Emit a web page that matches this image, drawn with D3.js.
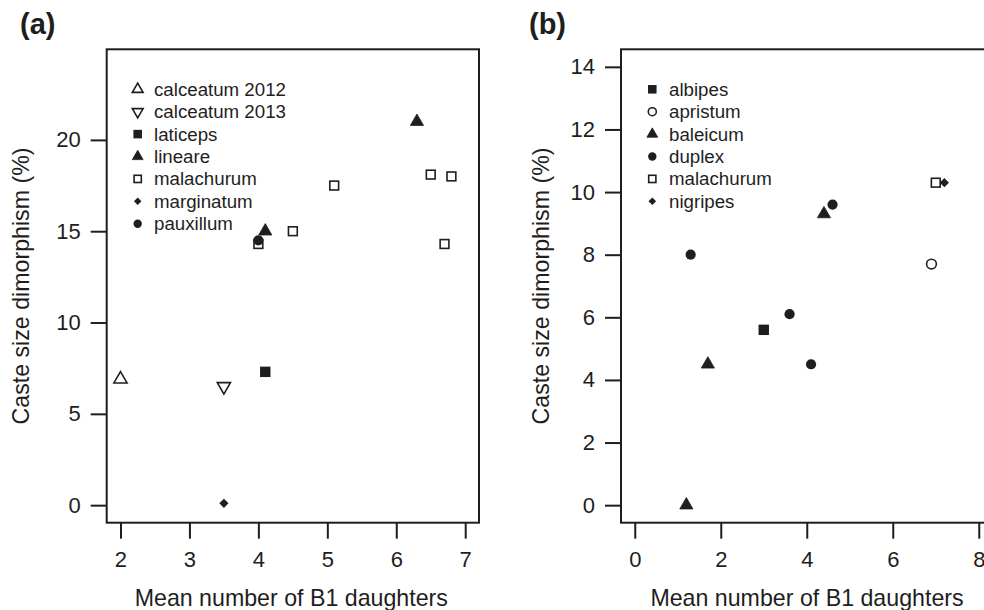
<!DOCTYPE html>
<html>
<head>
<meta charset="utf-8">
<script src="https://cdn.jsdelivr.net/npm/d3@7"></script>
<style>
  html, body { margin: 0; padding: 0; background: #fff; }
  svg { display: block; font-family: "Liberation Sans", Arial, Helvetica, sans-serif; }
</style>
</head>
<body>
<svg id="chart" width="984" height="610"></svg>
<script>
// ---------- DATA ----------
// Panel (a)
const seriesA = ["calceatum 2012", "calceatum 2013", "laticeps", "lineare", "malachurum", "marginatum", "pauxillum"];
const pointsA_calceatum2012 = [[2.0, 6.9]];
const pointsA_calceatum2013 = [[3.5, 6.5]];
const pointsA_laticeps      = [[4.1, 7.3]];
const pointsA_lineare       = [[6.3, 21.0], [4.1, 15.0]];
const pointsA_malachurum    = [[4.0, 14.3], [4.5, 15.0], [5.1, 17.5], [6.5, 18.1], [6.8, 18.0], [6.7, 14.3]];
const pointsA_marginatum    = [[3.5, 0.1]];
const pointsA_pauxillum     = [[4.0, 14.5]];
const xTicksA = [2, 3, 4, 5, 6, 7];
const yTicksA = [0, 5, 10, 15, 20];

// Panel (b)
const seriesB = ["albipes", "apristum", "baleicum", "duplex", "malachurum", "nigripes"];
const pointsB_albipes    = [[3.0, 5.6]];
const pointsB_apristum   = [[6.9, 7.7]];
const pointsB_baleicum   = [[4.4, 9.3], [1.7, 4.5], [1.2, 0.0]];
const pointsB_duplex     = [[1.3, 8.0], [4.6, 9.6], [3.6, 6.1], [4.1, 4.5]];
const pointsB_malachurum = [[7.0, 10.3]];
const pointsB_nigripes   = [[7.2, 10.3]];
const xTicksB = [0, 2, 4, 6, 8];
const yTicksB = [0, 2, 4, 6, 8, 10, 12, 14];

const xTitle = "Mean number of B1 daughters";
const yTitle = "Caste size dimorphism (%)";

// ---------- DRAWING ----------
const svg = d3.select("#chart");
const ink = "#1e1e1e";

// marker shapes keyed by series name (per panel)
const markerA = {
  "calceatum 2012": "triUpOpen", "calceatum 2013": "triDownOpen", "laticeps": "squareFilled",
  "lineare": "triUpFilled", "malachurum": "squareOpen", "marginatum": "diamondFilled", "pauxillum": "circleFilled"
};
const markerB = {
  "albipes": "squareFilled", "apristum": "circleOpen", "baleicum": "triUpFilled",
  "duplex": "circleFilled", "malachurum": "squareOpen", "nigripes": "diamondFilled"
};

function drawMarker(g, kind, cx, cy, s) {
  const gg = g.append("g").attr("transform", `translate(${cx},${cy})`);
  const sw = 1.6;
  if (kind.startsWith("triUp") || kind.startsWith("triDown")) {
    const r = 7.6 * s, h = r * Math.sqrt(3) / 2;
    const sign = kind.startsWith("triUp") ? 1 : -1;
    const p = `M0,${-sign * r}L${h},${sign * r / 2}L${-h},${sign * r / 2}Z`;
    const filled = kind.endsWith("Filled");
    gg.append("path").attr("d", p)
      .attr("fill", filled ? ink : "none")
      .attr("stroke", ink).attr("stroke-width", filled ? 0.8 : sw)
      .attr("stroke-linejoin", "miter");
  } else if (kind === "squareFilled") {
    const a = 5.2 * s;
    gg.append("rect").attr("x", -a).attr("y", -a).attr("width", 2 * a).attr("height", 2 * a).attr("fill", ink);
  } else if (kind === "squareOpen") {
    const a = 4.4 * s;
    gg.append("rect").attr("x", -a).attr("y", -a).attr("width", 2 * a).attr("height", 2 * a)
      .attr("fill", "none").attr("stroke", ink).attr("stroke-width", sw);
  } else if (kind === "diamondFilled") {
    const a = 4.6 * s;
    gg.append("path").attr("d", `M0,${-a}L${a},0L0,${a}L${-a},0Z`).attr("fill", ink);
  } else if (kind === "circleFilled") {
    gg.append("circle").attr("r", 5.1 * s).attr("fill", ink);
  } else if (kind === "circleOpen") {
    gg.append("circle").attr("r", 4.9 * s).attr("fill", "none").attr("stroke", ink).attr("stroke-width", sw);
  }
}

function panel(cfg) {
  const x = d3.scaleLinear().domain(cfg.xDomain).range([cfg.left, cfg.right]);
  const y = d3.scaleLinear().domain(cfg.yDomain).range([cfg.bottom, cfg.top]);
  const g = svg.append("g");

  // axes
  const xa = g.append("g").attr("transform", `translate(0,${cfg.bottom})`)
    .call(d3.axisBottom(x).tickValues(cfg.xTicks).tickSize(16).tickPadding(12.6).tickFormat(d3.format("d")));
  const ya = g.append("g").attr("transform", `translate(${cfg.left},0)`)
    .call(d3.axisLeft(y).tickValues(cfg.yTicks).tickSize(16).tickPadding(10).tickFormat(d3.format("d")));
  [xa, ya].forEach(a => {
    a.select(".domain").remove();
    a.selectAll(".tick line").attr("stroke", ink).attr("stroke-width", 2);
    a.selectAll(".tick text").attr("fill", ink).style("font-size", "22px")
      .style("font-family", "'Liberation Sans', Arial, Helvetica, sans-serif");
  });

  // box
  g.append("rect").attr("x", cfg.left).attr("y", cfg.top)
    .attr("width", cfg.right - cfg.left).attr("height", cfg.bottom - cfg.top)
    .attr("fill", "none").attr("stroke", ink).attr("stroke-width", 2);

  // points (clipped to plot area like R)
  const clipId = "clip" + cfg.tag;
  g.append("clipPath").attr("id", clipId).append("rect")
    .attr("x", cfg.left).attr("y", cfg.top).attr("width", cfg.right - cfg.left).attr("height", cfg.bottom - cfg.top);
  const pg = g.append("g").attr("clip-path", `url(#${clipId})`);
  cfg.series.forEach((name, i) => {
    cfg.points[i].forEach(p => drawMarker(pg, cfg.marker[name], x(p[0]), y(p[1]), 1));
  });

  // legend
  cfg.series.forEach((name, i) => {
    const ly = cfg.legendTop + i * 22.4;
    drawMarker(g, cfg.marker[name], cfg.legendSym, ly, 0.82);
    g.append("text").attr("x", cfg.legendText).attr("y", ly).attr("dy", "0.35em")
      .attr("fill", ink).style("font-size", "18.7px").text(name);
  });

  // titles
  g.append("text").attr("x", cfg.xTitleX).attr("y", 606).attr("text-anchor", "middle")
    .attr("fill", ink).style("font-size", "23.2px").text(xTitle);
  g.append("text").attr("transform", `translate(${cfg.yTitleX},${(cfg.top + cfg.bottom) / 2}) rotate(-90)`)
    .attr("text-anchor", "middle").attr("fill", ink).style("font-size", "23.2px").text(yTitle);

  // panel label
  g.append("text").attr("x", cfg.labelX).attr("y", 34).attr("fill", ink)
    .style("font-size", "29px").style("font-weight", "bold").text(cfg.label);
}

panel({
  tag: "a", label: "(a)", labelX: 20,
  left: 106.7, right: 479, top: 49.3, bottom: 522.7,
  xDomain: [1.8, 7.2], yDomain: [-0.96, 24.96],
  xTicks: xTicksA, yTicks: yTicksA,
  series: seriesA,
  points: [pointsA_calceatum2012, pointsA_calceatum2013, pointsA_laticeps, pointsA_lineare,
           pointsA_malachurum, pointsA_marginatum, pointsA_pauxillum],
  marker: markerA,
  legendTop: 89.3, legendSym: 137.7, legendText: 154,
  xTitleX: 291.3, yTitleX: 28.5
});

panel({
  tag: "b", label: "(b)", labelX: 529,
  left: 621, right: 621 + 8.64 * 43.0, top: 49.3, bottom: 522.7,
  xDomain: [-0.32, 8.32], yDomain: [-0.56, 14.56],
  xTicks: xTicksB, yTicks: yTicksB,
  series: seriesB,
  points: [pointsB_albipes, pointsB_apristum, pointsB_baleicum, pointsB_duplex,
           pointsB_malachurum, pointsB_nigripes],
  marker: markerB,
  legendTop: 89.3, legendSym: 652.3, legendText: 669,
  xTitleX: 807, yTitleX: 548.5
});
</script>
</body>
</html>
